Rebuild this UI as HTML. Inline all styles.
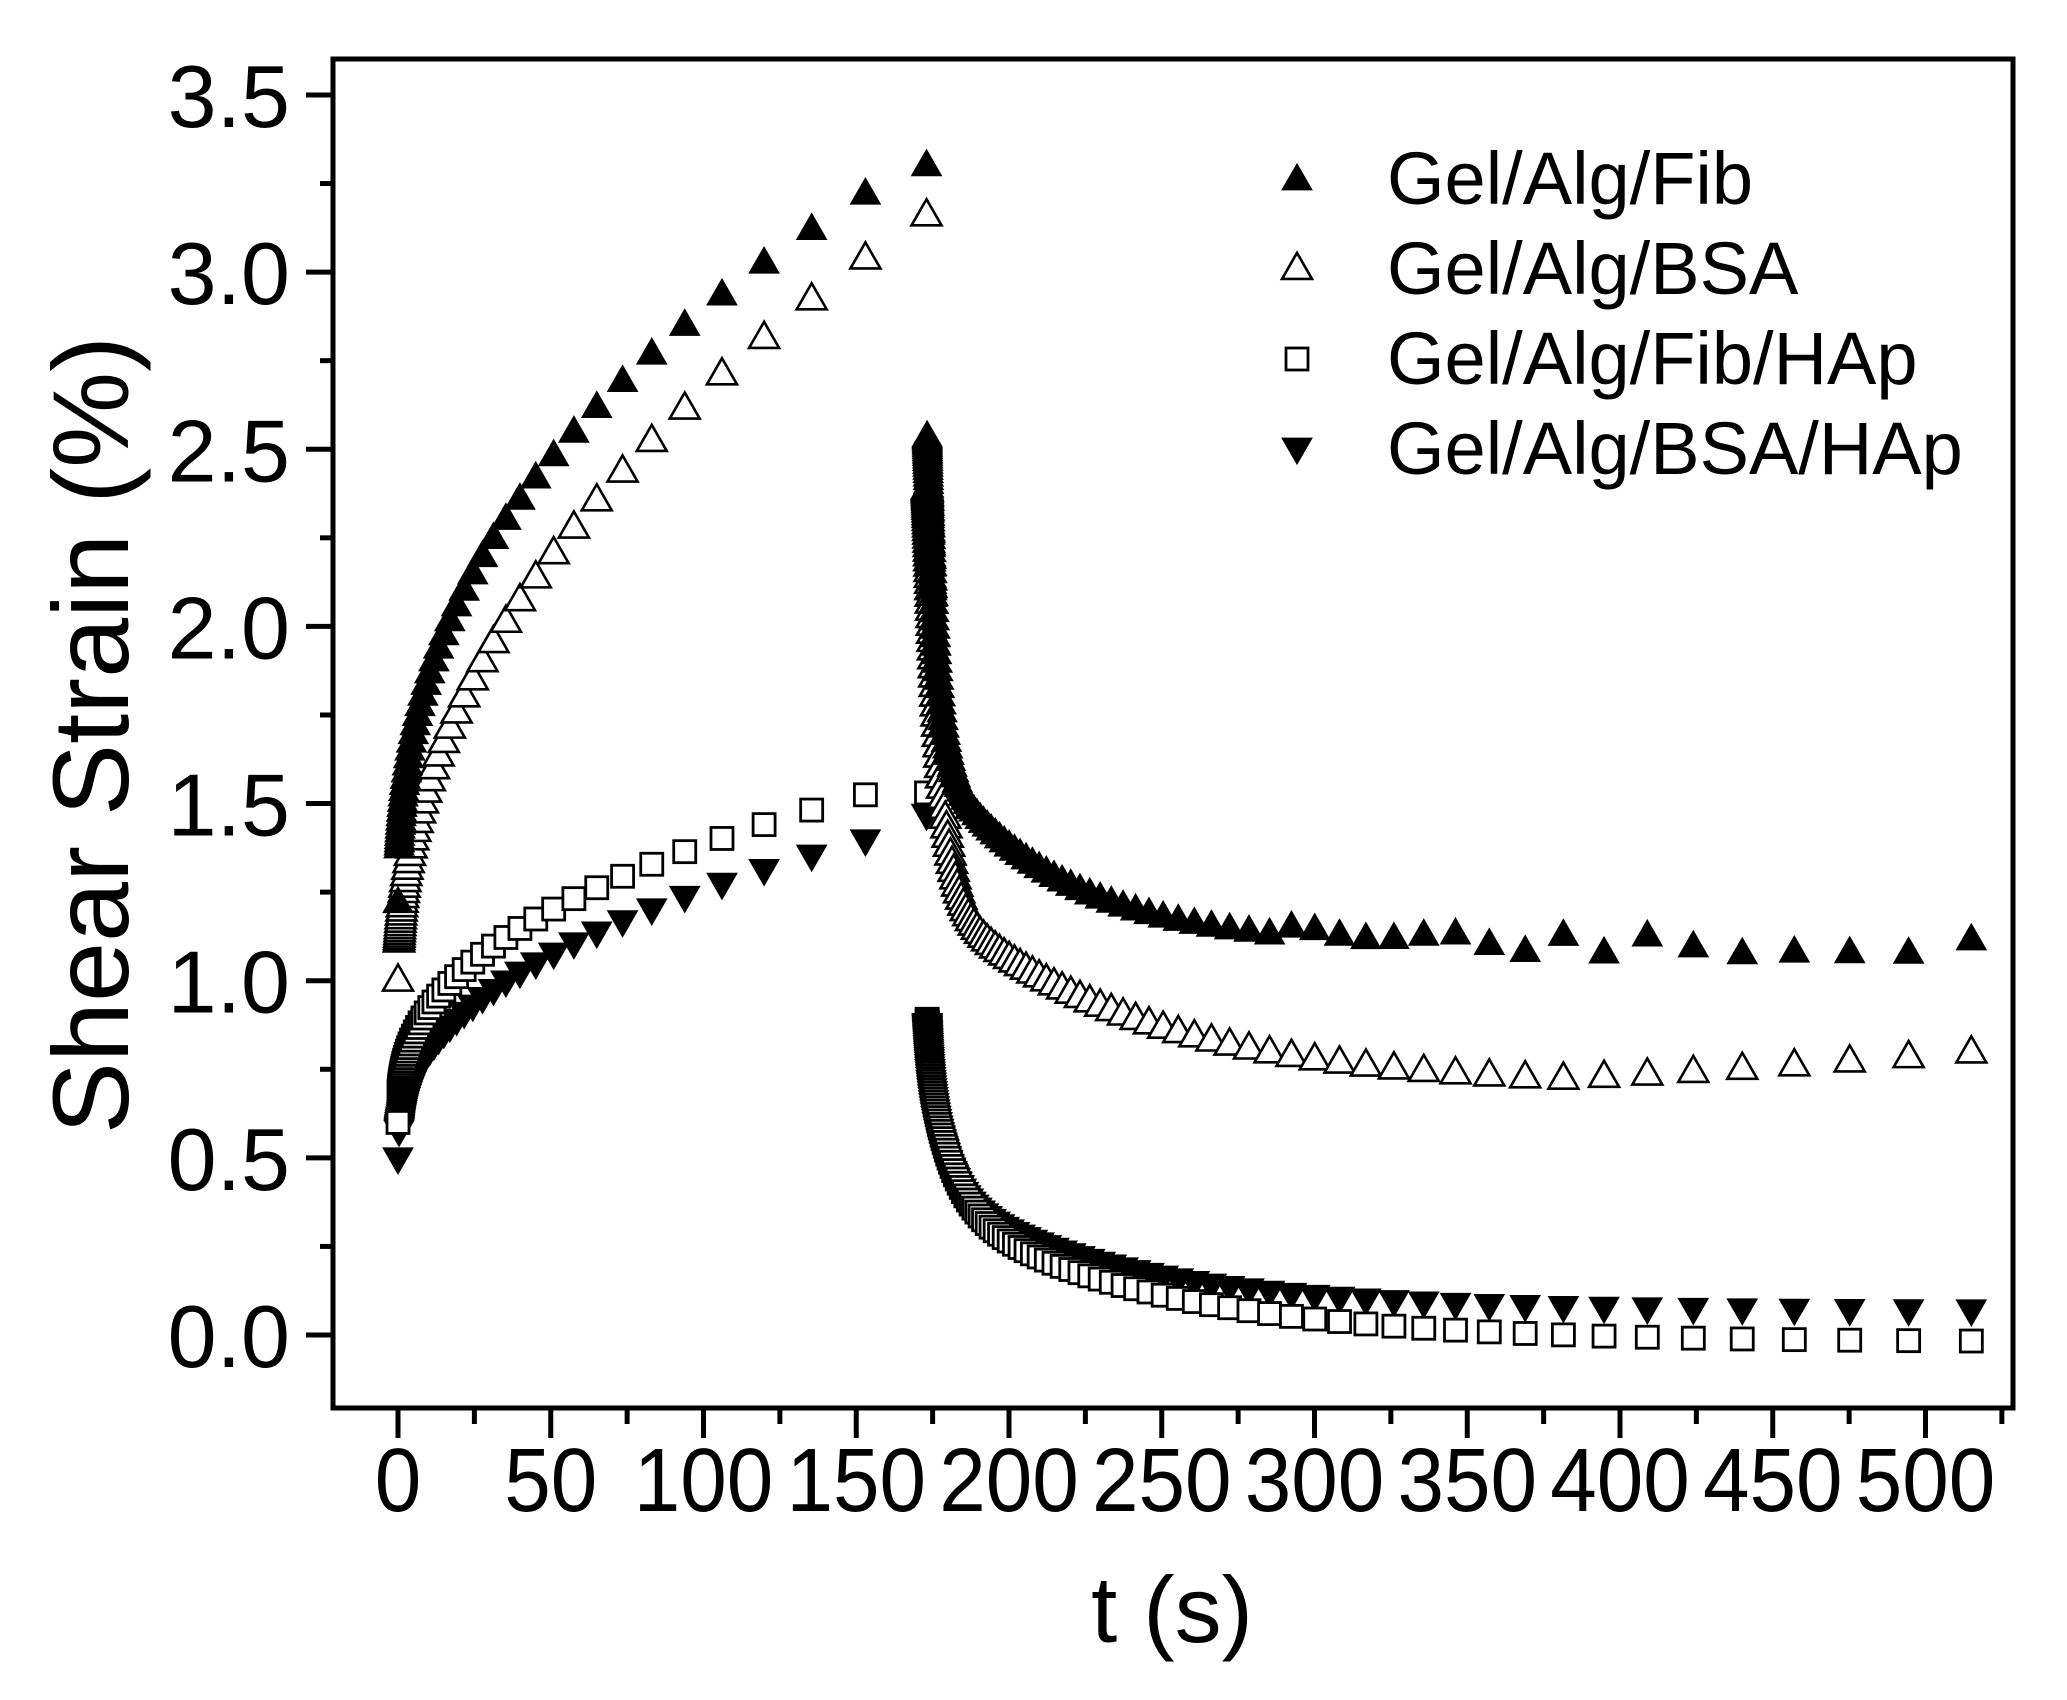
<!DOCTYPE html>
<html><head><meta charset="utf-8"><style>
html,body{margin:0;padding:0;background:#fff;}
svg{display:block;}
text{font-family:"Liberation Sans",Arial,sans-serif;fill:#000;}
</style></head><body>
<svg id="s" width="2067" height="1700" viewBox="0 0 2067 1700" xmlns="http://www.w3.org/2000/svg">
<rect width="2067" height="1700" fill="#fff"/>
<g id="data"></g>
<rect x="333" y="59" width="1680" height="1349" fill="none" stroke="#000" stroke-width="5"/>
<g id="ticks" stroke="#000" stroke-width="5"></g>
<g id="yl" font-size="88" text-anchor="end"></g>
<g id="xl" font-size="90" text-anchor="middle"></g>
<text x="1172" y="1642" font-size="94" text-anchor="middle">t (s)</text>
<text transform="translate(128,735) rotate(-90)" font-size="108" text-anchor="middle">Shear Strain (%)</text>
<g font-size="74">
<text x="1387" y="204">Gel/Alg/Fib</text>
<text x="1387" y="294">Gel/Alg/BSA</text>
<text x="1387" y="384">Gel/Alg/Fib/HAp</text>
<text x="1387" y="474">Gel/Alg/BSA/HAp</text>
</g>
<g id="leg"></g>
</svg>
<script>
var NS="http://www.w3.org/2000/svg";
function X(t){return 398+3.055*t;}
function Y(v){return 1335-354.3*v;}
function el(p,n,a){var e=document.createElementNS(NS,n);for(var k in a)e.setAttribute(k,a[k]);p.appendChild(e);return e;}
var tk=document.getElementById('ticks'),yl=document.getElementById('yl');
for(var i=0;i<=14;i++){var v=i*0.25,y=Y(v);el(tk,'line',{x1:(i%2?320:306),x2:333,y1:y,y2:y});
 if(i%2==0){var t=el(yl,'text',{x:290,y:y+32});t.textContent=v.toFixed(1);}}
var xl=document.getElementById('xl');
for(var i=0;i<=21;i++){var t=i*25,x=X(t);if(x>2013)break;el(tk,'line',{x1:x,x2:x,y1:1408,y2:(i%2?1424:1438)});
 if(i%2==0){var tx=el(xl,'text',{x:0,y:0,transform:'translate('+x+',1511) scale(0.93,1)'});tx.textContent=t;}}
var d=document.getElementById('data');
function up(g,x,y,s,fill){var h=s*0.87;el(g,'polygon',{points:(x)+','+(y-h*0.62)+' '+(x-s/2)+','+(y+h*0.38)+' '+(x+s/2)+','+(y+h*0.38),fill:fill?'#000':'#fff',stroke:'#000','stroke-width':fill?1:2.6});}
function dn(g,x,y,s){var h=s*0.87;el(g,'polygon',{points:(x)+','+(y+h*0.62)+' '+(x-s/2)+','+(y-h*0.38)+' '+(x+s/2)+','+(y-h*0.38),fill:'#000',stroke:'#000','stroke-width':1});}
function sq(g,x,y,s){el(g,'rect',{x:x-s/2,y:y-s/2,width:s,height:s,fill:'#fff',stroke:'#000','stroke-width':2.8});}
var lt=[0];for(var k=50;k>=0;k--)lt.push(153*Math.pow(0.885,k));
var rt=[];for(var k=120;k>=0;k--)rt.push(342*Math.pow(0.94,k));
function pw(a,b,n,t){return a+b*Math.pow(t,n);}
var series=[
 {f:function(t){return pw(1.22,0.243,0.419,t)},pk:3.3,r:function(dt){return 1.1+0.55*Math.exp(-dt/40)+0.95*Math.exp(-dt/3)+(dt>110?0.025*Math.sin(dt*0.7):0)},m:'uf'},
 {f:function(t){return pw(1.0,0.185,0.477,t)},pk:3.16,r:function(dt){var t=dt+173;return 0.7+0.55*Math.exp(-dt/65)+1.2*Math.exp(-dt/4)+Math.max(0,t-380)*0.0007},m:'uo'},
 {f:function(t){return pw(0.6,0.13,0.39,t)},pk:1.53,r:function(dt){return -0.02+0.4*Math.exp(-dt/70)+0.4*Math.exp(-dt/8)+0.15*Math.exp(-dt)},m:'sq'},
 {f:function(t){return pw(0.5,0.12,0.40,t)},pk:1.47,r:function(dt){return 0.07+0.35*Math.exp(-dt/60)+0.35*Math.exp(-dt/6)+0.15*Math.exp(-dt)},m:'dn'}
];
function mk(g,m,x,y){if(m=='uf')up(g,x,y,30,1);else if(m=='uo')up(g,x,y,30,0);else if(m=='sq')sq(g,x,y,22);else dn(g,x,y,30);}
[3,2,1,0].forEach(function(i){var s=series[i],g=el(d,'g',{});
 lt.forEach(function(t){mk(g,s.m,X(t),Y(s.f(t)));});
 mk(g,s.m,X(173),Y(s.pk));
 rt.forEach(function(dt){mk(g,s.m,X(173+dt),Y(s.r(dt)));});
});
var lg=document.getElementById('leg');
up(lg,1297,180,30,1);up(lg,1297,269,30,0);sq(lg,1297,359,22);dn(lg,1297,448,30);
</script>
</body></html>
